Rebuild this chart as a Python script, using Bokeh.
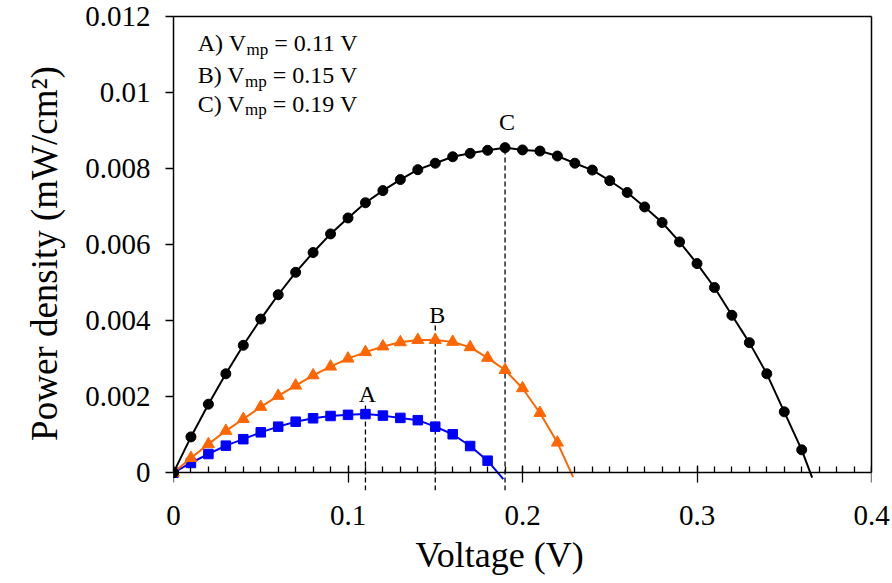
from bokeh.plotting import figure
from bokeh.models import Range1d, LinearAxis, FixedTicker, PrintfTickFormatter, ColumnDataSource, Title
from bokeh.core.properties import value
from bokeh.embed import file_html
from bokeh.resources import INLINE

# Measured voltage grid (V)
voltage = [0.00, 0.01, 0.02, 0.03, 0.04, 0.05, 0.06, 0.07, 0.08, 0.09,
           0.10, 0.11, 0.12, 0.13, 0.14, 0.15, 0.16, 0.17, 0.18, 0.19,
           0.20, 0.21, 0.22, 0.23, 0.24, 0.25, 0.26, 0.27, 0.28, 0.29,
           0.30, 0.31, 0.32, 0.33, 0.34, 0.35, 0.36]

# Power density (mW/cm2) for the three cells
power_a = [0.0, 0.000254, 0.00049, 0.00071, 0.00088, 0.00106, 0.00121, 0.00134,
           0.00143, 0.00149, 0.00152, 0.00154, 0.0015, 0.00144, 0.00138, 0.00121,
           0.00101, 0.0007, 0.000315]
power_b = [0.0, 0.000385, 0.00075, 0.0011, 0.00141, 0.00173, 0.00202, 0.00229,
           0.00256, 0.00279, 0.003, 0.00317, 0.00332, 0.00343, 0.00349, 0.00349,
           0.00344, 0.0033, 0.00302, 0.0027, 0.00222, 0.00157, 0.00079]
power_c = [0.0, 0.00094, 0.0018, 0.0026, 0.00335, 0.00404, 0.00468, 0.00527,
           0.00579, 0.00628, 0.0067, 0.0071, 0.00742, 0.00771, 0.00797, 0.00814,
           0.00831, 0.0084, 0.00848, 0.00855, 0.00849, 0.00846, 0.00833, 0.00814,
           0.00796, 0.00768, 0.00737, 0.00699, 0.00658, 0.00607, 0.0055, 0.00487,
           0.00414, 0.00342, 0.0026, 0.0016, 0.0006]

# Where each fitted line runs out past its last point (A, B, C)
end_voltage = [0.189, 0.229, 0.366]
end_power = [-0.00017, -0.00012, -0.00013]

# Maximum power points
cell_names = ["A", "B", "C"]
vmp = [0.11, 0.15, 0.19]
vmp_line_top = [0.00184, 0.00394, 0.00848]
vmp_label_y = [0.00207, 0.00416, 0.00923]

x_ticks = [0.0, 0.1, 0.2, 0.3, 0.4]
x_minor_ticks = [round(0.01 * i, 2) for i in range(41)]
y_ticks = [0.0, 0.002, 0.004, 0.006, 0.008, 0.01, 0.012]

FONT = "Liberation Serif"
Y_FLOOR = -0.00047
COLORS = ["#0000FF", "#FF6600", "black"]
MARKERS = ["square", "triangle", "circle"]
MARKER_SIZES = [9.5, 12, 10]

p = figure(width=892, height=583, output_backend="svg", toolbar_location=None,
           x_range=Range1d(0, 0.4), y_range=Range1d(Y_FLOOR, 0.012),
           x_axis_location=None, y_axis_location=None,
           min_border_left=173, min_border_right=21, min_border_top=16,
           min_border_bottom=93)
p.grid.visible = False
p.outline_line_color = None
p.background_fill_color = "white"
p.border_fill_color = "white"

LINE_STYLE = dict(axis_line_color="black", axis_line_width=1.5,
                  major_tick_line_color="black", major_tick_line_width=1.3,
                  minor_tick_line_color="black", minor_tick_line_width=1.3)
LABEL_STYLE = dict(major_label_text_font=FONT, major_label_text_font_size="29px",
                   major_label_text_color="black")
NO_TICKS = dict(major_tick_in=0, major_tick_out=0, minor_tick_in=0, minor_tick_out=0)

# tick labels for x, sitting under the frame
x_labels = LinearAxis(ticker=FixedTicker(ticks=x_ticks, minor_ticks=[]),
                      formatter=PrintfTickFormatter(format="%g"),
                      axis_line_color=None, major_tick_line_color=None,
                      minor_tick_line_color=None, major_label_standoff=15,
                      **NO_TICKS, **LABEL_STYLE)
p.add_layout(x_labels, "below")
p.add_layout(Title(text="Voltage (V)", align="left", offset=242,
                   text_font=FONT, text_font_size="36px", text_font_style="normal",
                   text_color="black"), "below")

# x axis line along P = 0 with short upward ticks every 0.01 V
x_line = LinearAxis(ticker=FixedTicker(ticks=[], minor_ticks=x_minor_ticks),
                    fixed_location=0, bounds=(0, 0.4),
                    major_tick_in=0, major_tick_out=0,
                    minor_tick_out=6, minor_tick_in=0,
                    major_label_standoff=0, **LINE_STYLE)
p.add_layout(x_line, "above")
# longer ticks crossing the line at every 0.1 V
x_major = LinearAxis(ticker=FixedTicker(ticks=[], minor_ticks=x_ticks),
                     fixed_location=0, bounds=(0, 0.4), axis_line_color=None,
                     major_tick_in=0, major_tick_out=0,
                     minor_tick_out=7, minor_tick_in=10,
                     minor_tick_line_color="black", minor_tick_line_width=1.3,
                     major_label_standoff=0)
p.add_layout(x_major, "above")

yaxis = LinearAxis(ticker=FixedTicker(ticks=y_ticks, minor_ticks=[]),
                   formatter=PrintfTickFormatter(format="%g"),
                   bounds=(0, 0.012),
                   major_tick_in=0, major_tick_out=8,
                   minor_tick_in=0, minor_tick_out=0,
                   major_label_standoff=15,
                   axis_label="Power density (mW/cm²)",
                   axis_label_text_font=FONT, axis_label_text_font_size="37px",
                   axis_label_text_font_style="normal", axis_label_text_color="black",
                   axis_label_standoff=17, **LINE_STYLE, **LABEL_STYLE)
p.add_layout(yaxis, "left")

# plain frame lines on top and right
for side, bnds in (("above", (0, 0.4)), ("right", (0, 0.012))):
    frame_axis = LinearAxis(ticker=FixedTicker(ticks=[], minor_ticks=[]),
                            bounds=bnds, axis_line_color="black", axis_line_width=1.5,
                            major_label_standoff=0, **NO_TICKS)
    p.add_layout(frame_axis, side)

# dashed drop lines at each Vmp
p.segment(x0=vmp, y0=[Y_FLOOR] * len(vmp), x1=vmp, y1=vmp_line_top,
          line_color="black", line_width=1.3, line_dash="5 3")
p.text(x=vmp, y=vmp_label_y, text=cell_names, text_align="center", x_offset=2,
       text_baseline="alphabetic", text_font=value(FONT), text_font_size="24px",
       text_color="black")

# curves
for i, series in enumerate([power_a, power_b, power_c]):
    n = len(series)
    src = ColumnDataSource(dict(v=voltage[:n], p=series))
    p.line(voltage[:n] + [end_voltage[i]], series + [end_power[i]],
           line_color=COLORS[i], line_width=2)
    p.scatter("v", "p", source=src, marker=MARKERS[i], size=MARKER_SIZES[i],
              fill_color=COLORS[i], line_color=COLORS[i])

# Vmp summary text, with "mp" as a subscript
ADV = {"A": 0.722, "B": 0.667, "C": 0.667, ")": 0.333, " ": 0.25, "V": 0.722,
       "m": 0.778, "p": 0.5}
MAIN_PX, SUB_PX = 24, 17
prefix = [f"{n}) V" for n in cell_names]
suffix = [f"= {v:.2f} V" for v in vmp]
prefix_w = [sum(ADV[c] for c in s) * MAIN_PX for s in prefix]
sub_w = sum(ADV[c] for c in "mp") * SUB_PX + ADV[" "] * MAIN_PX
legend_x = [0.0139] * 3
legend_y = [0.0113, 0.01045, 0.0097]

p.text(x=legend_x, y=legend_y, text=prefix, text_baseline="alphabetic",
       text_font=value(FONT), text_font_size=f"{MAIN_PX}px", text_color="black")
p.text(x=legend_x, y=legend_y, text=["mp"] * 3, x_offset=prefix_w, y_offset=6,
       text_baseline="alphabetic", text_font=value(FONT),
       text_font_size=f"{SUB_PX}px", text_color="black")
p.text(x=legend_x, y=legend_y, text=suffix, x_offset=[w + sub_w for w in prefix_w],
       text_baseline="alphabetic", text_font=value(FONT),
       text_font_size=f"{MAIN_PX}px", text_color="black")

open("out.html", "w").write(file_html(p, INLINE))
